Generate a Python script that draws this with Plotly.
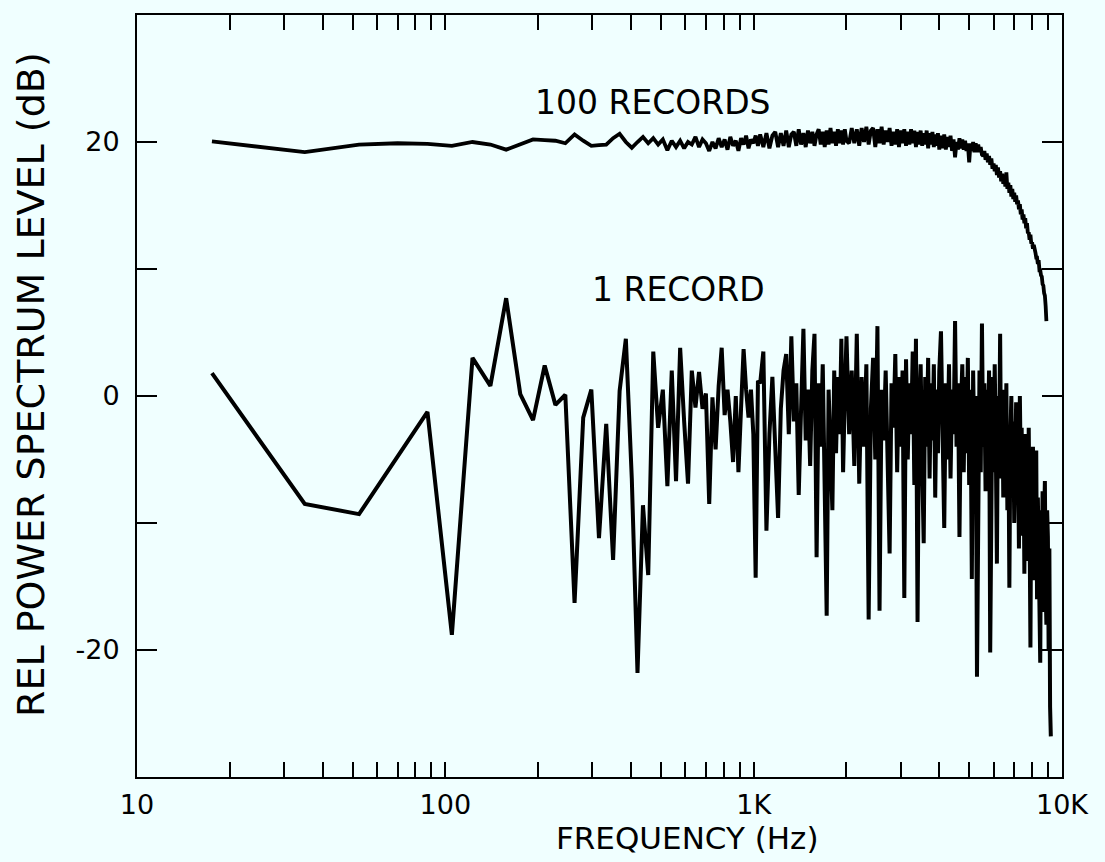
import math
import plotly.graph_objects as go

# ---------------- data ----------------
freq_hz = [
    # 17.5 Hz bins up to ~1 kHz
    17.5, 35, 52.5, 70, 87.5, 105, 122.5, 140, 157.5, 175,
    192.5, 210, 227.5, 245, 262.5, 280, 297.5, 315, 332.5, 350,
    367.5, 385, 402.5, 420, 437.5, 455, 472.5, 490, 507.5, 525,
    542.5, 560, 577.5, 595, 612.5, 630, 647.5, 665, 682.5, 700,
    717.5, 735, 752.5, 770, 787.5, 805, 822.5, 840, 857.5, 875,
    892.5, 910, 927.5, 945, 962.5, 980, 997.5, 1015, 1032.5,
    # 1 - 2 kHz
    1050, 1075, 1100, 1125, 1150, 1175, 1200, 1225, 1250, 1275,
    1300, 1325, 1350, 1375, 1400, 1425, 1450, 1475, 1500, 1525,
    1550, 1575, 1600, 1625, 1650, 1675, 1700, 1725, 1750, 1775,
    1800, 1825, 1850, 1875, 1900, 1925, 1950, 1975, 2000,
    # 2 - 4 kHz
    2040, 2080, 2120, 2160, 2200, 2240, 2280, 2320, 2360, 2400,
    2440, 2480, 2520, 2560, 2600, 2640, 2680, 2720, 2760, 2800,
    2840, 2880, 2920, 2960, 3000, 3040, 3080, 3120, 3160, 3200,
    3240, 3280, 3320, 3360, 3400, 3440, 3480, 3520, 3560, 3600,
    3640, 3680, 3720, 3760, 3800, 3840, 3880, 3920, 3960, 4000,
    # 4 - 9.2 kHz
    4050, 4100, 4150, 4200, 4250, 4300, 4350, 4400, 4450, 4500,
    4550, 4600, 4650, 4700, 4750, 4800, 4850, 4900, 4950, 5000,
    5050, 5100, 5150, 5200, 5250, 5300, 5350, 5400, 5450, 5500,
    5550, 5600, 5650, 5700, 5750, 5800, 5850, 5900, 5950, 6000,
    6050, 6100, 6150, 6200, 6250, 6300, 6350, 6400, 6450, 6500,
    6550, 6600, 6650, 6700, 6750, 6800, 6850, 6900, 6950, 7000,
    7050, 7100, 7150, 7200, 7250, 7300, 7350, 7400, 7450, 7500,
    7550, 7600, 7650, 7700, 7750, 7800, 7850, 7900, 7950, 8000,
    8050, 8100, 8150, 8200, 8250, 8300, 8350, 8400, 8450, 8500,
    8550, 8600, 8650, 8700, 8750, 8800, 8850, 8900, 8950, 9000,
    9050, 9100, 9150, 9200,
]

level_1_record = [
    1.8, -8.5, -9.3, -4.7, -1.25, -18.8, 3.0, 0.8, 7.7, 0.15,
    -1.9, 2.4, -0.7, 0.1, -16.3, -1.7, 0.5, -11.2, -2.2, -12.9,
    0.4, 4.5, -6.5, -21.8, -8.6, -14.1, 3.5, -2.5, 0.5, -7.1,
    2.0, -6.7, 3.8, -2.0, -6.9, 2.0, -0.9, 1.9, -1.0, 0.2,
    -8.5, -0.1, -4.2, 0.8, 3.8, -1.5, 0.5, -2.0, -5.2, 0.0,
    -6.0, -1.0, 3.7, 0.5, -1.7, 0.5, -3.0, -14.3, 1.2,
    1.0, 3.5, -10.6, -3.0, 1.5, -4.0, -9.6, -1.0, 2.0, 3.3,
    -3.0, 4.7, -2.0, 1.0, -7.8, -1.0, 5.3, -3.5, 0.5, -5.5,
    2.0, 4.9, -12.7, 1.0, -4.0, 2.5, -6.0, -17.3, 0.5, -5.0,
    -9.0, 2.0, -4.5, 1.5, -3.0, 4.5, -6.0, 0.0, 4.7,
    -3.0, 2.0, -5.5, 4.9, -6.9, 1.5, -4.0, 2.5, -17.6, -1.0,
    3.0, -5.0, 5.5, -16.9, 0.5, -3.5, 2.0, -6.5, -12.4, 1.0,
    -2.5, 3.3, -6.0, 1.5, -4.0, 2.0, -15.9, 2.9, -5.0, 1.0,
    -3.0, 3.5, -7.0, 4.5, -17.8, -1.0, 2.5, -5.5, -11.6, 1.5,
    -4.0, 3.0, -6.5, 1.0, -3.5, 2.5, -8.0, 0.5, -4.5, 2.0,
    5.1, -3.0, -10.4, 1.0, -5.0, 2.5, -6.5, 0.5, -3.0, 5.9,
    -4.0, 1.0, -11.1, -1.0, 2.5, -6.0, 1.5, -4.5, 3.0, -7.0,
    0.5, -14.4, 2.0, -5.0, 0.0, -22.1, -3.0, 2.0, -6.0, 5.7,
    -4.0, 1.0, -7.5, 0.5, -3.5, 2.0, -20.2, -2.0, 1.5, -6.0,
    2.5, -4.0, -13.2, 0.0, -5.0, 4.9, -6.5, 0.5, -8.0, -1.0,
    -5.0, 1.0, -9.0, -2.5, -15.1, -3.5, 0.0, -7.0, -2.0, -10.0,
    -3.0, -0.5, -8.5, -4.0, -12.0, 0.0, -6.0, -2.5, -11.0, -4.0,
    -14.0, -3.0, -9.5, -5.0, -13.0, -2.5, -10.0, -19.8, -6.0, -12.5,
    -4.0, -9.0, -14.5, -5.5, -4.3, -16.0, -8.0, -12.0, -18.5, -21.0,
    -9.0, -14.0, -7.5, -17.0, -10.0, -6.7, -15.0, -18.0, -9.0, -11.1,
    -20.0, -12.0, -24.5, -26.8,
]

level_100_records = [
    20.05, 19.2, 19.8, 19.9, 19.85, 19.7, 20.0, 19.8, 19.4, 19.8,
    20.2, 20.15, 20.1, 19.9, 20.6, 20.1, 19.7, 19.75, 19.8, 20.3,
    20.65, 20.0, 19.55, 20.0, 20.4, 19.9, 20.3, 19.8, 20.2, 19.35,
    20.1, 19.6, 20.1, 19.5, 20.0, 19.8, 20.4, 19.6, 20.2, 19.9,
    19.3, 20.0, 19.5, 20.3, 19.6, 20.2, 19.4, 20.4, 19.7, 20.1,
    19.3, 20.3, 19.8, 20.5, 19.5, 20.2, 19.9, 20.5, 19.7,
    20.6, 19.6, 20.7, 19.5, 20.5, 20.8, 19.6, 20.7, 19.7, 20.9,
    19.6, 20.6, 20.8, 19.7, 21.0, 19.8, 20.7, 19.6, 20.9, 19.9,
    20.8, 19.7, 20.6, 21.0, 19.8, 20.8, 19.6, 20.9, 19.8, 21.1,
    19.9, 20.8, 19.7, 21.0, 19.9, 20.9, 19.8, 21.0, 20.1,
    19.9, 21.1, 19.9, 21.0, 19.7, 21.1, 20.0, 21.2, 19.8, 20.9,
    21.1, 19.6, 21.0, 19.9, 21.2, 19.8, 20.9, 20.0, 21.1, 19.7,
    20.8, 19.8, 21.0, 19.6, 20.9, 19.9, 21.0, 19.7, 20.8, 19.8,
    21.0, 19.9, 20.9, 19.6, 20.8, 19.8, 20.9, 19.7, 20.7, 19.8,
    20.9, 19.5, 20.7, 19.8, 20.8, 19.6, 20.6, 19.7, 20.7, 19.4,
    20.5, 19.5, 20.6, 19.4, 20.4, 19.6, 20.5, 19.3, 20.2, 18.8,
    20.0, 19.4, 20.3, 19.5, 20.2, 19.4, 20.1, 19.3, 19.9, 18.4,
    19.9, 19.3, 20.0, 19.2, 19.9, 19.2, 19.8, 19.2, 19.6, 19.0,
    18.9, 19.3, 18.6, 19.1, 18.4, 18.9, 18.2, 18.7, 17.9, 18.3,
    17.7, 18.2, 17.4, 18.0, 17.2, 17.7, 16.9, 17.5, 16.7, 17.2,
    16.5, 17.6, 16.3, 16.8, 16.0, 16.6, 15.7, 16.3, 15.5, 16.0,
    15.3, 15.8, 15.1, 15.4, 14.7, 15.1, 14.3, 14.7, 13.9, 14.3,
    13.6, 14.0, 13.2, 13.6, 12.8, 12.9, 12.3, 12.7, 12.0, 12.1,
    11.6, 11.9, 11.3, 11.3, 10.9, 10.9, 10.4, 10.7, 9.9, 9.9,
    9.5, 9.4, 8.8, 8.7, 8.1, 7.9, 7.1, 5.9,
]

x_tick_values = [10, 20, 30, 40, 50, 60, 70, 80, 90,
                 100, 200, 300, 400, 500, 600, 700, 800, 900,
                 1000, 2000, 3000, 4000, 5000, 6000, 7000, 8000, 9000, 10000]
x_tick_labels = ["10", "", "", "", "", "", "", "", "",
                 "100", "", "", "", "", "", "", "", "",
                 "1K", "", "", "", "", "", "", "", "", "10K"]
y_tick_values = [-30, -20, -10, 0, 10, 20, 30]
y_tick_labels = ["", "-20", "", "0", "", "20", ""]

curve_labels = ["100 RECORDS", "1 RECORD"]
curve_label_freq = [472, 570]     # Hz, label centre
curve_label_level = [23.1, 8.4]   # dB, label centre

# ---------------- figure ----------------
BG = "#F0FFFF"
FONT = "DejaVu Sans"

fig = go.Figure()
fig.add_trace(go.Scatter(
    x=freq_hz[:len(level_100_records)], y=level_100_records,
    mode="lines", line=dict(color="black", width=3.8), showlegend=False))
fig.add_trace(go.Scatter(
    x=freq_hz[:len(level_1_record)], y=level_1_record,
    mode="lines", line=dict(color="black", width=4), showlegend=False))

for txt, fx, fy in zip(curve_labels, curve_label_freq, curve_label_level):
    fig.add_annotation(x=math.log10(fx), y=fy, xref="x", yref="y", text=txt,
                       showarrow=False, font=dict(family=FONT, size=33, color="black"))

fig.add_annotation(x=(687 - 137) / 925, y=(777 - 838) / 762, xref="paper", yref="paper",
                   text="FREQUENCY (Hz)", showarrow=False, xanchor="center", yanchor="middle",
                   font=dict(family=FONT, size=31, color="black"))
fig.add_annotation(x=(31 - 137) / 925, y=(777 - 385) / 762, xref="paper", yref="paper",
                   text="REL POWER SPECTRUM LEVEL (dB)", textangle=-90, showarrow=False,
                   xanchor="center", yanchor="middle",
                   font=dict(family=FONT, size=38, color="black"))

fig.update_xaxes(type="log", range=[1, 4], showgrid=False, zeroline=False,
                 showline=True, linecolor="black", linewidth=2, mirror="ticks",
                 ticks="inside", ticklen=15, tickwidth=1.5, tickcolor="black",
                 tickvals=x_tick_values, ticktext=x_tick_labels,
                 tickfont=dict(family=FONT, size=27, color="black"),
                 ticklabelstandoff=3)
fig.update_yaxes(range=[-30, 30], showgrid=False, zeroline=False,
                 showline=True, linecolor="black", linewidth=2, mirror="ticks",
                 ticks="inside", ticklen=20, tickwidth=1.5, tickcolor="black",
                 tickvals=y_tick_values, ticktext=y_tick_labels,
                 tickfont=dict(family=FONT, size=27, color="black"),
                 ticklabelstandoff=10)
fig.update_layout(width=1105, height=862,
                  margin=dict(l=137, r=43, t=15, b=85),
                  paper_bgcolor=BG, plot_bgcolor=BG)

fig.write_html("out.html")
